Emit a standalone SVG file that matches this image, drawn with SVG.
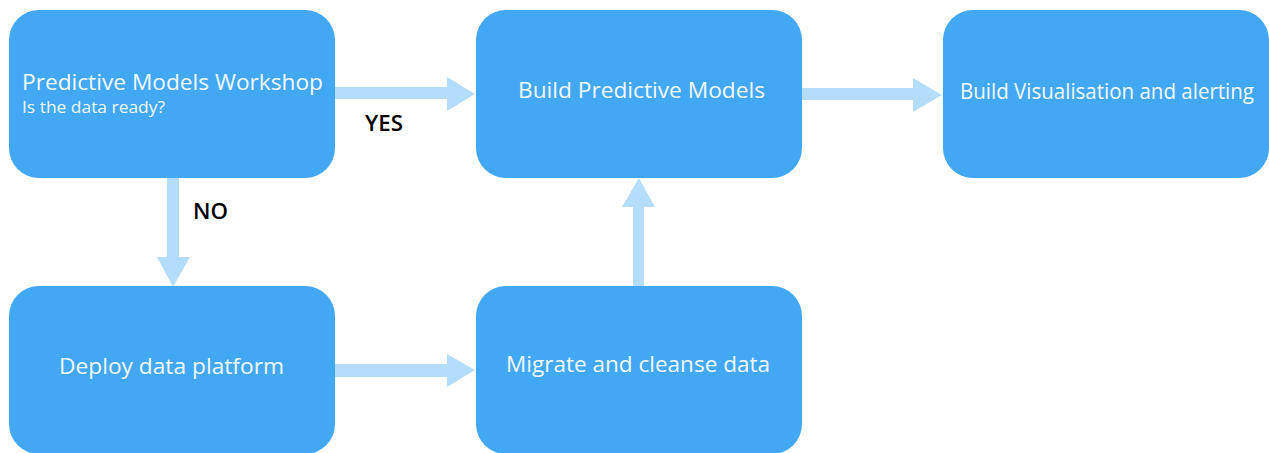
<svg xmlns="http://www.w3.org/2000/svg" width="1269" height="453" viewBox="0 0 1269 453">
<style>
.box{fill:#42A8F4}
.arrow{fill:#B3DDFB}
.t{fill:#F2F8FE;font-family:"Open Sans","Liberation Sans",sans-serif;font-size:22.5px}
.s{fill:#F2F8FE;font-family:"Open Sans","Liberation Sans",sans-serif;font-size:17px}
.lbl{fill:#000;font-family:"Open Sans","Liberation Sans",sans-serif;font-size:22px;font-weight:600}
</style>
<rect width="1269" height="453" fill="#fff"/>
<g id="connectors">
<polygon class="arrow" points="335,87 447,87 447,77 475,94 447,111 447,99 335,99"/>
<polygon class="arrow" points="802,88 913,88 913,78 942,95 913,112 913,100 802,100"/>
<polygon class="arrow" points="167,178 179,178 179,257 190,257 173,287 157,257 167,257"/>
<polygon class="arrow" points="633,286 644,286 644,207 655,207 639,178 622,207 633,207"/>
<polygon class="arrow" points="335,364 447,364 447,354 475,370 447,387 447,377 335,377"/>
<text class="lbl" x="365" y="131" textLength="38" lengthAdjust="spacingAndGlyphs">YES</text>
<text class="lbl" x="193" y="219" textLength="35" lengthAdjust="spacingAndGlyphs">NO</text>
</g>
<g id="n1">
<rect class="box" x="9" y="10" width="326" height="168" rx="30"/>
<text class="t" x="22" y="90" textLength="301" lengthAdjust="spacingAndGlyphs">Predictive Models Workshop</text>
<text class="s" x="22" y="113" textLength="143" lengthAdjust="spacingAndGlyphs">Is the data ready?</text>
</g>
<g id="n2">
<rect class="box" x="476" y="10" width="326" height="168" rx="30"/>
<text class="t" x="518" y="98" textLength="247" lengthAdjust="spacingAndGlyphs">Build Predictive Models</text>
</g>
<g id="n3">
<rect class="box" x="943" y="10" width="326" height="168" rx="30"/>
<text class="t" x="960" y="99" textLength="294" lengthAdjust="spacingAndGlyphs" style="font-size:21.5px">Build Visualisation and alerting</text>
</g>
<g id="n4">
<rect class="box" x="9" y="286" width="326" height="168" rx="30"/>
<text class="t" x="59" y="374" textLength="225" lengthAdjust="spacingAndGlyphs">Deploy data platform</text>
</g>
<g id="n5">
<rect class="box" x="476" y="286" width="326" height="168" rx="30"/>
<text class="t" x="506" y="372" textLength="264" lengthAdjust="spacingAndGlyphs">Migrate and cleanse data</text>
</g>
</svg>
